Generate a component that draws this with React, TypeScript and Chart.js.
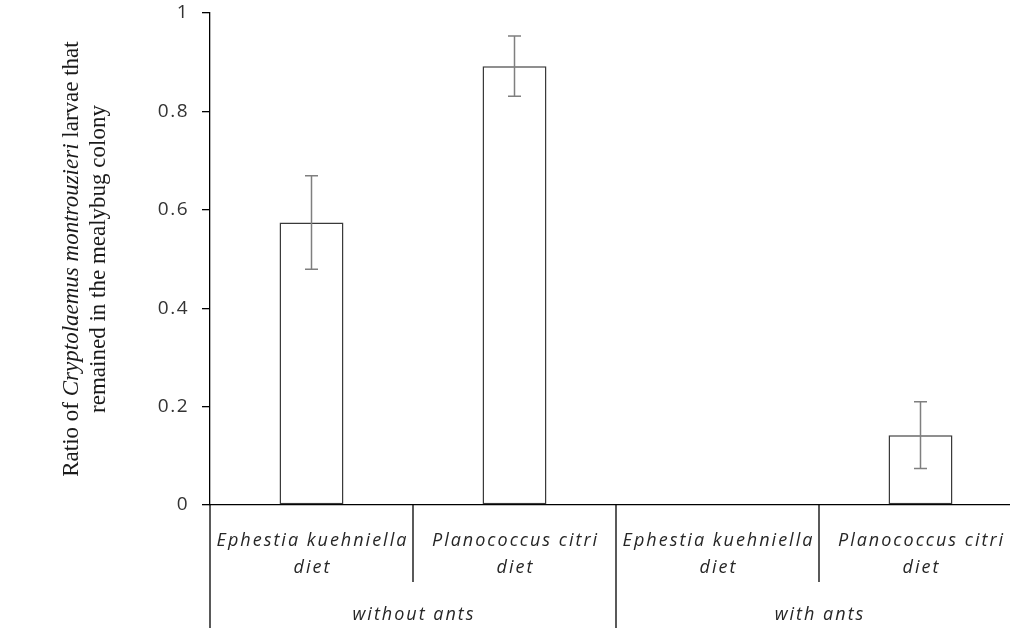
import { useEffect, useRef } from "react";
import { Chart, registerables } from "chart.js";
Chart.register(...registerables);

const categoryLines: string[][] = [
  ["Ephestia kuehniella", "diet"],
  ["Planococcus citri", "diet"],
  ["Ephestia kuehniella", "diet"],
  ["Planococcus citri", "diet"],
];
const groupLabels: string[] = ["without ants", "with ants"];
const groupSizes: number[] = [2, 2];
const meanValues: number[] = [0.574, 0.892, 0, 0.142];
const errorValues: number[] = [0.095, 0.061, 0, 0.068];
const yTickLabels: string[] = ["0", "0.2", "0.4", "0.6", "0.8", "1"];
const titleLine1: { text: string; italic: boolean }[] = [
  { text: "Ratio of ", italic: false },
  { text: "Cryptolaemus montrouzieri", italic: true },
  { text: " larvae that", italic: false },
];
const titleLine2 = "remained in the mealybug colony";

const LABEL_FONT = "'Open Sans', sans-serif";
const TITLE_FONT = "'Liberation Serif', serif";

const errorBarPlugin = {
  id: "errorBars",
  beforeDraw(chart: any) {
    chart.ctx.letterSpacing = "1.5px";
  },
  afterDatasetsDraw(chart: any) {
    const ctx = chart.ctx;
    const meta = chart.getDatasetMeta(0);
    const y = chart.scales.y;
    ctx.save();
    ctx.strokeStyle = "#7f7f7f";
    ctx.lineWidth = 1.5;
    meta.data.forEach((bar: any, i: number) => {
      const e = errorValues[i];
      if (!e) return;
      const m = meanValues[i];
      const yt = y.getPixelForValue(m + e);
      const yb = y.getPixelForValue(m - e);
      const x = bar.x;
      ctx.beginPath();
      ctx.moveTo(x, yt);
      ctx.lineTo(x, yb);
      ctx.moveTo(x - 6.5, yt);
      ctx.lineTo(x + 6.5, yt);
      ctx.moveTo(x - 6.5, yb);
      ctx.lineTo(x + 6.5, yb);
      ctx.stroke();
    });
    ctx.restore();
  },
};

const axisLabelPlugin = {
  id: "axisLabels",
  afterDraw(chart: any) {
    const ctx = chart.ctx;
    const xs = chart.scales.x;
    const area = chart.chartArea;
    const n = categoryLines.length;
    const half = (xs.getPixelForValue(1) - xs.getPixelForValue(0)) / 2;
    const base = area.bottom;
    ctx.save();
    ctx.strokeStyle = "#000";
    ctx.lineWidth = 1.3;
    let idx = 0;
    const groupStarts: number[] = [0];
    groupSizes.forEach((s) => {
      idx += s;
      groupStarts.push(idx);
    });
    for (let i = 0; i <= n; i++) {
      const px = xs.getPixelForValue(i) - half;
      const isGroup = groupStarts.includes(i);
      ctx.beginPath();
      ctx.moveTo(px, base);
      ctx.lineTo(px, isGroup ? base + 123 : base + 77);
      ctx.stroke();
    }
    ctx.fillStyle = "#262626";
    ctx.textAlign = "center";
    ctx.textBaseline = "middle";
    ctx.letterSpacing = "2px";
    ctx.font = `italic 18px ${LABEL_FONT}`;
    categoryLines.forEach((lines, i) => {
      const cx = xs.getPixelForValue(i) + 1;
      lines.forEach((t, j) => {
        ctx.fillText(t, cx, base + 36 + j * 27);
      });
    });
    let start = 0;
    groupLabels.forEach((g, k) => {
      const end = start + groupSizes[k];
      const cx = (xs.getPixelForValue(start) + xs.getPixelForValue(end - 1)) / 2 + 1;
      ctx.fillText(g, cx, base + 110);
      start = end;
    });
    ctx.letterSpacing = "0px";
    const cy = (area.top + area.bottom) / 2;
    ctx.translate(0, cy);
    ctx.rotate(-Math.PI / 2);
    ctx.textAlign = "left";
    ctx.fillStyle = "#1a1a1a";
    const fontFor = (it: boolean) => `${it ? "italic " : ""}23px ${TITLE_FONT}`;
    let total = 0;
    titleLine1.forEach((s) => {
      ctx.font = fontFor(s.italic);
      total += ctx.measureText(s.text).width;
    });
    let xx = -total / 2;
    titleLine1.forEach((s) => {
      ctx.font = fontFor(s.italic);
      ctx.fillText(s.text, xx, 72);
      xx += ctx.measureText(s.text).width;
    });
    ctx.font = fontFor(false);
    ctx.textAlign = "center";
    ctx.fillText(titleLine2, 0, 99);
    ctx.restore();
  },
};

export default function App() {
  const ref = useRef<HTMLCanvasElement>(null);
  useEffect(() => {
    const chart = new Chart(ref.current!, {
      type: "bar",
      data: {
        labels: categoryLines.map((l) => l.join(" ")),
        datasets: [
          {
            data: meanValues,
            backgroundColor: "#ffffff",
            borderColor: "#3a3a3a",
            borderWidth: 1.5,
            borderSkipped: false,
            barPercentage: 0.315,
            categoryPercentage: 1,
          },
        ],
      },
      options: {
        responsive: false,
        animation: false,
        devicePixelRatio: 1,
        layout: { padding: { top: 13, right: 0, left: 0, bottom: 0 } },
        plugins: { legend: { display: false }, tooltip: { enabled: false } },
        scales: {
          x: {
            type: "category",
            offset: true,
            grid: { drawOnChartArea: false, drawTicks: false },
            border: { display: true, color: "#000", width: 1.3 },
            ticks: { display: false },
            afterFit: (s: any) => {
              s.height = 125;
              s.paddingLeft = 0;
              s.paddingRight = 0;
            },
          },
          y: {
            min: 0,
            max: 1,
            ticks: {
              stepSize: 0.2,
              padding: 13,
              color: "#333",
              font: { family: LABEL_FONT, size: 19 },
              callback: (_v: any, i: number) => yTickLabels[i],
            },
            grid: { drawOnChartArea: false, drawTicks: true, tickLength: 8, color: "#000", lineWidth: 1.3 },
            border: { display: true, color: "#000", width: 1.3 },
            afterFit: (s: any) => {
              s.width = 210;
              s.paddingTop = 0;
              s.paddingBottom = 0;
            },
          },
        },
      } as any,
      plugins: [errorBarPlugin, axisLabelPlugin],
    });
    return () => chart.destroy();
  }, []);
  return (
    <div
      style={{
        position: "absolute",
        left: 0,
        top: 0,
        width: 1010,
        height: 630,
        overflow: "hidden",
        background: "#fff",
      }}
    >
      <canvas ref={ref} width={1022} height={630} style={{ display: "block" }} />
    </div>
  );
}
